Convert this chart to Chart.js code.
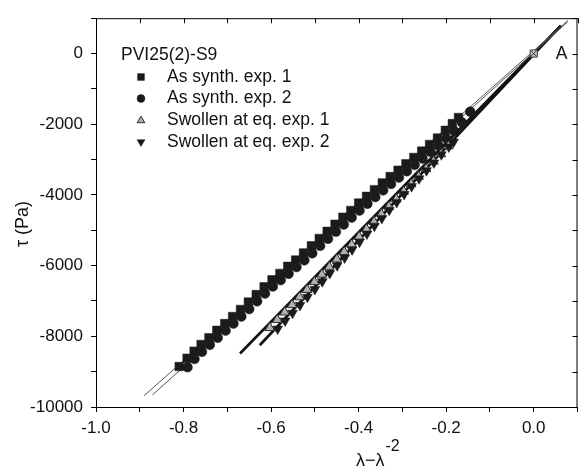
<!DOCTYPE html>
<html><head><meta charset="utf-8">
<script src="https://cdn.jsdelivr.net/npm/chart.js@4.4.0/dist/chart.umd.min.js"></script>
<style>html,body{margin:0;padding:0;background:#fff;}canvas{display:block;}</style>
</head><body>
<canvas id="c" width="584" height="470"></canvas>
<script>
// ---- data ----
const legendTitle = "PVI25(2)-S9";
const seriesLabels = ["As synth. exp. 1", "As synth. exp. 2", "Swollen at eq. exp. 1", "Swollen at eq. exp. 2"];

const asSynth1X = [-0.810,-0.792,-0.776,-0.760,-0.742,-0.724,-0.706,-0.688,-0.670,-0.652,-0.634,-0.616,-0.598,-0.580,-0.562,-0.544,-0.526,-0.508,-0.490,-0.472,-0.454,-0.436,-0.418,-0.400,-0.382,-0.364,-0.346,-0.328,-0.310,-0.292,-0.274,-0.256,-0.238,-0.220,-0.202,-0.186,-0.172];
const asSynth1Y = [-8855,-8620,-8420,-8230,-8040,-7830,-7640,-7440,-7240,-7030,-6820,-6600,-6400,-6220,-6020,-5840,-5640,-5440,-5230,-5030,-4830,-4630,-4440,-4230,-4040,-3850,-3660,-3480,-3300,-3120,-2940,-2760,-2570,-2390,-2170,-1980,-1810];

const asSynth2X = [-0.791,-0.775,-0.758,-0.740,-0.722,-0.704,-0.686,-0.668,-0.650,-0.632,-0.614,-0.596,-0.578,-0.560,-0.542,-0.524,-0.506,-0.488,-0.470,-0.452,-0.434,-0.416,-0.398,-0.380,-0.362,-0.344,-0.326,-0.308,-0.290,-0.272,-0.254,-0.236,-0.218,-0.200,-0.182,-0.164,-0.145];
const asSynth2Y = [-8874,-8640,-8440,-8240,-8040,-7840,-7640,-7440,-7230,-7010,-6790,-6590,-6410,-6230,-6040,-5850,-5650,-5440,-5240,-5040,-4840,-4640,-4440,-4250,-4060,-3870,-3690,-3510,-3330,-3150,-2970,-2780,-2600,-2400,-2190,-1950,-1645];

const swollen1X = [-0.603,-0.586,-0.569,-0.552,-0.535,-0.518,-0.501,-0.484,-0.467,-0.450,-0.433,-0.416,-0.399,-0.382,-0.365,-0.348,-0.331,-0.314,-0.297,-0.280,-0.263,-0.246,-0.229,-0.212,-0.195];
const swollen1Y = [-7760,-7530,-7320,-7110,-6890,-6680,-6460,-6250,-6040,-5820,-5610,-5400,-5180,-4970,-4760,-4540,-4330,-4120,-3900,-3690,-3480,-3260,-3050,-2840,-2620];

const swollen2X = [-0.585,-0.568,-0.551,-0.534,-0.517,-0.500,-0.483,-0.466,-0.449,-0.432,-0.415,-0.398,-0.381,-0.364,-0.347,-0.330,-0.313,-0.296,-0.279,-0.262,-0.245,-0.228,-0.211,-0.194,-0.183];
const swollen2Y = [-7790,-7560,-7340,-7120,-6890,-6670,-6450,-6220,-6000,-5780,-5550,-5330,-5100,-4880,-4660,-4430,-4210,-3980,-3760,-3540,-3310,-3090,-2860,-2640,-2500];

const originX = [0.0];
const originY = [0];

const fitSynth1X = [-0.890, 0.078];
const fitSynth1Y = [-9678, 935];
const fitSynth2X = [-0.871, 0.078];
const fitSynth2Y = [-9659, 900];
const fitSwollen1X = [-0.671, 0.062];
const fitSwollen1Y = [-8486, 787];
const fitSwollen2X = [-0.626, 0.062];
const fitSwollen2Y = [-8253, 787];

const xMin = -1.0, xMax = 0.1, xStep = 0.1;
const yMin = -10000, yMax = 1000, yStep = 1000;
const pointLabel = "A";

// ---- build ----
const pts = (xs, ys) => xs.map((x, i) => ({x: x, y: ys[i]}));
const FONT = "'Liberation Sans', Arial, sans-serif";
const INK = '#1b1b1b';

const markerStyles = [
  {pointStyle: 'rect', radius: 6.0, rotation: 0, bg: INK, border: INK, bw: 0.5},
  {pointStyle: 'circle', radius: 4.9, rotation: 0, bg: INK, border: INK, bw: 0.5},
  {pointStyle: 'triangle', radius: 5.5, rotation: 0, bg: '#b0b0b0', border: '#2a2a2a', bw: 1},
  {pointStyle: 'triangle', radius: 5.7, rotation: 180, bg: INK, border: INK, bw: 0.5}
];
const seriesData = [pts(asSynth1X, asSynth1Y), pts(asSynth2X, asSynth2Y), pts(swollen1X, swollen1Y), pts(swollen2X, swollen2Y)];

const datasets = [];
const lineDs = (xs, ys, w, col) => ({
  type: 'line', data: pts(xs, ys), borderColor: col, borderWidth: w,
  pointRadius: 0, fill: false, showLine: true, order: 10
});
datasets.push(lineDs(fitSynth1X, fitSynth1Y, 1, '#555'));
datasets.push(lineDs(fitSynth2X, fitSynth2Y, 1, '#555'));
datasets.push(lineDs(fitSwollen1X, fitSwollen1Y, 2.6, '#111'));
datasets.push(lineDs(fitSwollen2X, fitSwollen2Y, 2.6, '#111'));
seriesData.forEach((d, i) => {
  const m = markerStyles[i];
  datasets.push({
    type: 'scatter', label: seriesLabels[i], data: d,
    pointStyle: m.pointStyle, pointRadius: m.radius, pointRotation: m.rotation,
    backgroundColor: m.bg, borderColor: m.border, borderWidth: m.bw, order: 5 - i
  });
});
datasets.push({type: 'scatter', data: pts(originX, originY), pointStyle: 'rect', pointRadius: 5,
  backgroundColor: '#ccc', borderColor: '#333', borderWidth: 1, order: 0});
datasets.push({type: 'scatter', data: pts(originX, originY), pointStyle: 'crossRot', pointRadius: 3.5,
  backgroundColor: '#333', borderColor: '#333', borderWidth: 1, order: -1});

const decor = {
  id: 'decor',
  afterDraw(chart) {
    const ctx = chart.ctx, a = chart.chartArea;
    const xs = chart.scales.x, ys = chart.scales.y;
    ctx.save();
    ctx.strokeStyle = '#000'; ctx.lineWidth = 1;
    // top and right frame with inward ticks
    ctx.beginPath();
    ctx.moveTo(a.left, a.top + 0.5); ctx.lineTo(a.right, a.top + 0.5);
    ctx.moveTo(a.right - 0.5, a.top); ctx.lineTo(a.right - 0.5, a.bottom);
    xs.ticks.forEach(t => { const p = Math.round(xs.getPixelForValue(t.value)) + 0.5; ctx.moveTo(p, a.top); ctx.lineTo(p, a.top + 5); });
    ys.ticks.forEach(t => { const p = Math.round(ys.getPixelForValue(t.value)) + 0.5; ctx.moveTo(a.right, p); ctx.lineTo(a.right - 5, p); });
    ctx.stroke();
    // "A" label next to origin
    ctx.fillStyle = '#111';
    ctx.font = '17.5px ' + FONT;
    ctx.textBaseline = 'middle'; ctx.textAlign = 'left';
    ctx.fillText(pointLabel, xs.getPixelForValue(0) + 22, ys.getPixelForValue(0) + 1);
    // legend
    ctx.fillText(legendTitle, 121, 55);
    const rows = [77, 98.5, 120.5, 142];
    seriesLabels.forEach((lab, i) => {
      const m = markerStyles[i];
      ctx.fillStyle = m.bg; ctx.strokeStyle = m.border; ctx.lineWidth = m.bw;
      Chart.helpers.drawPoint(ctx, {pointStyle: m.pointStyle, radius: m.radius * 0.8, rotation: m.rotation, borderWidth: m.bw}, 141, rows[i]);
      ctx.fillStyle = '#111';
      ctx.fillText(lab, 167, rows[i]);
    });
    // axis titles
    ctx.font = '18px ' + FONT;
    ctx.textAlign = 'left'; ctx.textBaseline = 'alphabetic';
    const main = 'λ−λ';
    const w = ctx.measureText(main).width;
    const x0 = 356;
    ctx.fillText(main, x0, 466);
    ctx.font = '16px ' + FONT;
    ctx.fillText('-2', x0 + w + 1, 451);
    ctx.font = '18px ' + FONT;
    ctx.translate(23, 224);
    ctx.rotate(-Math.PI / 2);
    ctx.textAlign = 'center'; ctx.textBaseline = 'middle';
    ctx.fillText('τ (Pa)', 0, 0);
    ctx.restore();
  }
};

new Chart(document.getElementById('c'), {
  type: 'scatter',
  data: {datasets: datasets},
  options: {
    responsive: false, animation: false, devicePixelRatio: 1,
    layout: {padding: {left: 0, top: 10, right: 1, bottom: 0}},
    plugins: {legend: {display: false}, tooltip: {enabled: false}},
    scales: {
      x: {
        type: 'linear', min: xMin, max: xMax,
        afterFit: s => { s.height = 63; },
        border: {display: true, color: '#000', width: 1},
        grid: {drawOnChartArea: false, drawTicks: true, tickLength: 5, color: '#000'},
        ticks: {
          stepSize: xStep, padding: 6, color: '#111', font: {family: FONT, size: 17},
          maxRotation: 0, autoSkip: false,
          callback: v => (Math.abs(Math.round(v * 10)) % 2 === 0 ? (Math.round(v * 10) / 10).toFixed(1) : '')
        }
      },
      y: {
        type: 'linear', min: yMin, max: yMax,
        afterFit: s => { s.width = 96; },
        border: {display: true, color: '#000', width: 1},
        grid: {drawOnChartArea: false, drawTicks: true, tickLength: 5, color: '#000'},
        ticks: {
          stepSize: yStep, padding: 8, color: '#111', font: {family: FONT, size: 17},
          autoSkip: false,
          callback: v => (Math.round(v) % 2000 === 0 ? String(Math.round(v)) : '')
        }
      }
    }
  },
  plugins: [decor]
});
</script>
</body></html>
